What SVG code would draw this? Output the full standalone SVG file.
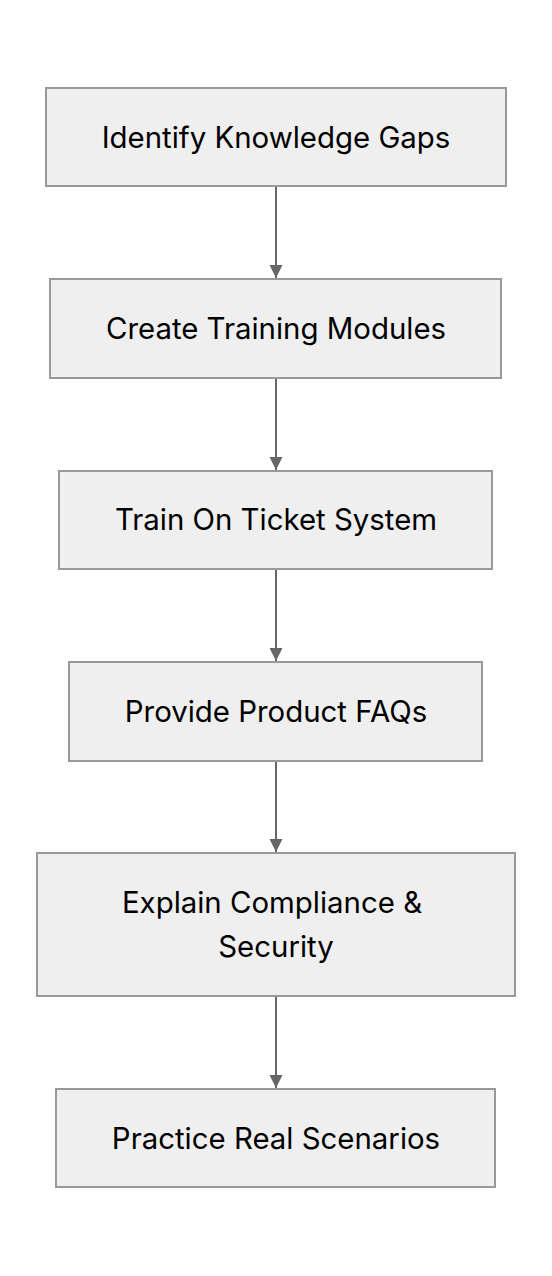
<svg xmlns="http://www.w3.org/2000/svg" width="552" height="1276" viewBox="0 0 552 1276">
<defs>
<style>
.node rect{fill:#efefef;stroke:#999999;stroke-width:2}
.node text{font-family:Inter,"Noto Sans",sans-serif;font-size:29.4px;fill:#000;text-anchor:middle}
.edge{stroke:#666666;stroke-width:2;fill:none}
</style>
<marker id="arrow" viewBox="0 0 10 10" refX="10" refY="5" markerWidth="13" markerHeight="14" markerUnits="userSpaceOnUse" orient="auto">
<path d="M0,0 L10,5 L0,10 z" fill="#666666"/>
</marker>
</defs>
<rect width="552" height="1276" fill="#ffffff"/>
<g id="connectors">
<line class="edge" x1="276" y1="187" x2="276" y2="278" marker-end="url(#arrow)"/>
<line class="edge" x1="276" y1="379" x2="276" y2="470" marker-end="url(#arrow)"/>
<line class="edge" x1="276" y1="570" x2="276" y2="661" marker-end="url(#arrow)"/>
<line class="edge" x1="276" y1="762" x2="276" y2="852" marker-end="url(#arrow)"/>
<line class="edge" x1="276" y1="997" x2="276" y2="1088" marker-end="url(#arrow)"/>
</g>
<g id="n1" class="node"><rect x="46" y="88" width="460" height="98"/><text x="276" y="148">Identify Knowledge Gaps</text></g>
<g id="n2" class="node"><rect x="50" y="279" width="451" height="99"/><text x="276" y="339">Create Training Modules</text></g>
<g id="n3" class="node"><rect x="59" y="471" width="433" height="98"/><text x="276" y="530">Train On Ticket System</text></g>
<g id="n4" class="node"><rect x="69" y="662" width="413" height="99"/><text x="276" y="722">Provide Product FAQs</text></g>
<g id="n5" class="node"><rect x="37" y="853" width="478" height="143"/><text x="272" y="913">Explain Compliance &amp;</text><text x="276" y="957">Security</text></g>
<g id="n6" class="node"><rect x="56" y="1089" width="439" height="98"/><text x="276" y="1149">Practice Real Scenarios</text></g>
</svg>
